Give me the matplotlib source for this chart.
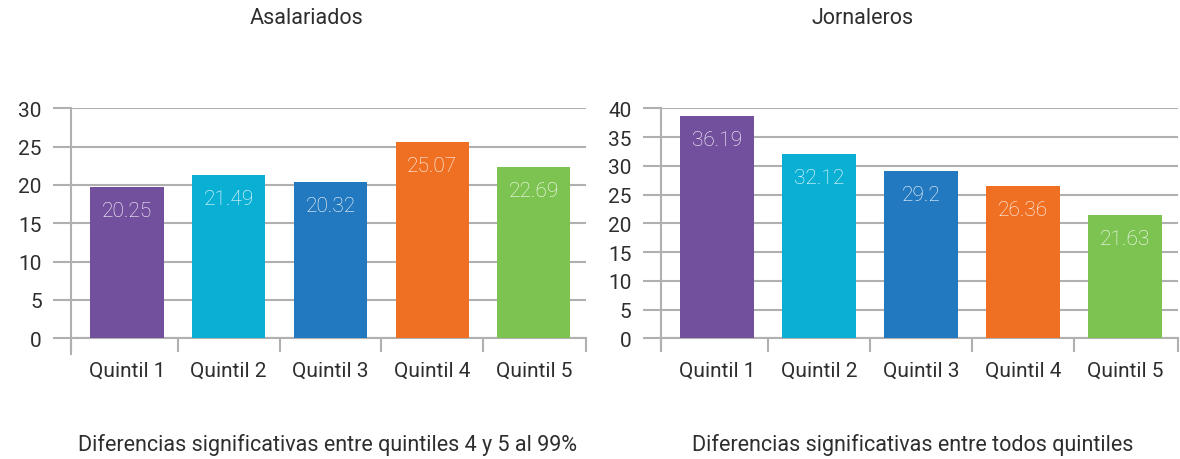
import matplotlib.pyplot as plt
import numpy as np

plt.rcParams['font.family'] = ['Roboto', 'DejaVu Sans']

categories = ['Quintil 1', 'Quintil 2', 'Quintil 3', 'Quintil 4', 'Quintil 5']
colors = ['#73509e', '#0ab0d4', '#2379bf', '#f07023', '#7dc352']

# bar heights as drawn in the picture, and the printed labels
asal_heights = [19.7, 21.3, 20.4, 25.6, 22.3]
asal_labels = ['20.25', '21.49', '20.32', '25.07', '22.69']
jorn_heights = [38.7, 32.05, 29.1, 26.5, 21.45]
jorn_labels = ['36.19', '32.12', '29.2', '26.36', '21.63']

titles = ['Asalariados', 'Jornaleros']
notes = ['Diferencias significativas entre quintiles 4 y 5 al 99%',
         'Diferencias significativas entre todos quintiles']
ymax = [30, 40]

text_color = '#2e2e2e'
grid_color = '#b0b0b0'

fig = plt.figure(figsize=(11.8, 4.6), dpi=100)
axes = [fig.add_axes([0.0602, 0.2624, 0.4362, 0.5]),
        fig.add_axes([0.5598, 0.2624, 0.4385, 0.5])]


def draw_panel(ax, heights, labels, top, xleft, xright):
    x = np.arange(len(categories))
    ax.bar(x, heights, width=0.72, color=colors, zorder=3)
    for xi, h, lab in zip(x, heights, labels):
        ax.annotate(lab, (xi, h), xytext=(0, -17), textcoords='offset points',
                    ha='center', va='center', color='white', fontsize=15,
                    fontweight='light', zorder=4)
    ax.set_xlim(xleft, xright)
    ax.set_ylim(0, top)
    ax.set_yticks(np.arange(0, top + 1, 5))
    ax.yaxis.grid(True, color=grid_color, linewidth=1.5, zorder=0)
    ax.tick_params(axis='y', length=13, width=1.5, color=grid_color,
                   labelsize=15, labelcolor=text_color, pad=8)
    ax.set_xticks(x)
    ax.set_xticklabels(categories)
    ax.tick_params(axis='x', length=0, labelsize=15, labelcolor=text_color, pad=16)
    ax.set_xticks([xleft] + list(x[:-1] + 0.5) + [xright], minor=True)
    ax.tick_params(axis='x', which='minor', length=10, width=1.5, color=grid_color)
    for s in ['top', 'right']:
        ax.spines[s].set_visible(False)
    ax.spines['left'].set_color(grid_color)
    ax.spines['left'].set_linewidth(1.5)
    ax.spines['left'].set_bounds(-2, top)
    ax.spines['bottom'].set_color(grid_color)
    ax.spines['bottom'].set_linewidth(1.5)


draw_panel(axes[0], asal_heights, asal_labels, ymax[0], -0.55, 4.51)
draw_panel(axes[1], jorn_heights, jorn_labels, ymax[1], -0.553, 4.52)

for xc, t in zip([307 / 1180, 863 / 1180], titles):
    fig.text(xc, 1 - 19 / 460, t, ha='center', va='center', fontsize=15.5,
             color=text_color)
for xc, n in zip([327 / 1180, 913 / 1180], notes):
    fig.text(xc, 1 - 445 / 460, n, ha='center', va='center', fontsize=15.5,
             color=text_color)

fig.savefig('out.png', dpi=100)
